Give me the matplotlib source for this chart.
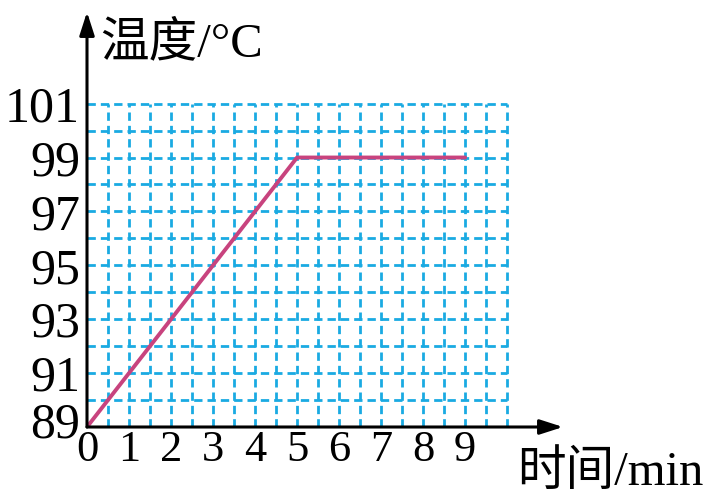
import matplotlib.pyplot as plt
from matplotlib.transforms import ScaledTranslation

# data
time_min = [0, 5, 9]
temp_c = [89, 99, 99]
x_ticks = list(range(0, 10))
y_ticks = [89, 91, 93, 95, 97, 99, 101]
grid_x = [i * 0.5 for i in range(1, 21)]
grid_y = list(range(90, 102))

serif_cjk = ['Liberation Serif', 'Noto Sans CJK SC']

fig = plt.figure(figsize=(7.22, 5), dpi=100)
ax = fig.add_axes([87 / 722, 73 / 500, 476 / 722, 415 / 500])
ax.set_xlim(0, 11.33)
ax.set_ylim(89, 104.4)

grid_color = '#1aaae2'
ax.hlines(grid_y, 0, 10, colors=grid_color, linewidth=2.0,
          linestyles=(0, (3.0, 1.8)), zorder=1)
ax.vlines(grid_x, 89, 101, colors=grid_color, linewidth=2.0,
          linestyles=(0, (3.0, 1.8)), zorder=1)

ax.plot(time_min, temp_c, color='#c8437e', linewidth=2.8, zorder=3,
        solid_capstyle='round')

for s in ax.spines.values():
    s.set_visible(False)

# axes with arrows
arrow = dict(arrowstyle='-|>,head_length=1.4,head_width=0.45',
             color='black', lw=2.2, shrinkA=0, shrinkB=0)
ax.annotate('', xy=(11.33, 89), xytext=(0, 89), arrowprops=arrow,
            annotation_clip=False, zorder=4)
ax.annotate('', xy=(0, 104.4), xytext=(0, 89), arrowprops=arrow,
            annotation_clip=False, zorder=4)

ax.set_xticks(x_ticks)
ax.set_yticks(y_ticks)
ax.set_xticklabels([str(v) for v in x_ticks], fontfamily='Liberation Serif', fontsize=32)
ax.set_yticklabels([str(v) for v in y_ticks], fontfamily='Liberation Serif', fontsize=36)
ax.tick_params(axis='both', length=0)
ax.tick_params(axis='x', pad=2)
ax.tick_params(axis='y', pad=5)

# the lowest y label sits a little higher, clear of the "0"
lab89 = ax.get_yticklabels()[0]
lab89.set_transform(lab89.get_transform() + ScaledTranslation(0, 7 / 100, fig.dpi_scale_trans))

fig.text(100 / 722, 1 - 56 / 500, '温度/°C', family=serif_cjk, fontsize=35,
         ha='left', va='baseline')
fig.text(517 / 722, 1 - 485 / 500, '时间/min', family=serif_cjk, fontsize=35,
         ha='left', va='baseline')

fig.savefig('out.png', dpi=100)
